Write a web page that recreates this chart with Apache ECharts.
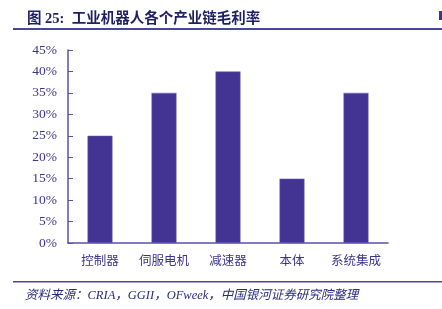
<!DOCTYPE html>
<html>
<head>
<meta charset="utf-8">
<script src="https://cdn.jsdelivr.net/npm/echarts@6/dist/echarts.min.js"></script>
<style>html,body{margin:0;padding:0;background:#fff;}#c{width:442px;height:309px;}</style>
</head>
<body>
<div id="c"></div>
<script>
const categories = ['控制器', '伺服电机', '减速器', '本体', '系统集成'];
const grossMargin = [25, 35, 40, 15, 35];
const yTicks = [0, 5, 10, 15, 20, 25, 30, 35, 40, 45];
const titleText = '图 25:  工业机器人各个产业链毛利率';
const sourceText = '资料来源：CRIA，GGII，OFweek，中国银河证券研究院整理';

const axisColor = '#5a52a8';
const labelColor = '#3b358f';
const chart = echarts.init(document.getElementById('c'), null, {renderer: 'canvas'});
chart.setOption({
  animation: false,
  backgroundColor: '#fff',
  title: {
    text: titleText,
    left: 22, top: 7,
    textStyle: {fontSize: 14.5, fontWeight: 'bold', color: '#1f1f66', fontFamily: '"Liberation Serif","Noto Sans CJK SC",serif'}
  },
  grid: {left: 68, right: 54, top: 50, bottom: 66},
  xAxis: {
    type: 'category',
    data: categories,
    axisLine: {lineStyle: {color: axisColor, width: 1.5}},
    axisTick: {inside: true, length: 5, lineStyle: {color: axisColor}},
    axisLabel: {interval: 0, color: labelColor, fontSize: 12.5, margin: 11, fontFamily: '"Noto Sans CJK SC",serif'}
  },
  yAxis: {
    type: 'value',
    min: yTicks[0], max: yTicks[yTicks.length - 1], interval: 5,
    axisLine: {show: true, lineStyle: {color: axisColor, width: 1.5}},
    axisTick: {show: true, inside: true, length: 5, lineStyle: {color: axisColor}},
    splitLine: {show: false},
    axisLabel: {color: labelColor, fontSize: 13.5, margin: 11, fontFamily: '"Liberation Serif",serif', formatter: v => v + '%'}
  },
  series: [{
    type: 'bar',
    data: grossMargin,
    barWidth: '39%',
    itemStyle: {color: '#433494', borderColor: '#6a60b8', borderWidth: 0.5}
  }],
  graphic: [
    {type: 'rect', shape: {x: 13, y: 28, width: 429, height: 2}, style: {fill: '#4a46a0'}},
    {type: 'rect', shape: {x: 439, y: 11, width: 3, height: 9}, style: {fill: '#3a3590'}},
    {type: 'rect', shape: {x: 13, y: 281, width: 429, height: 1.5}, style: {fill: '#4a46a0'}},
    {type: 'text', left: 25, top: 289, style: {text: sourceText, fill: '#2a2a80', font: 'italic 12.5px "Liberation Serif","Noto Sans CJK SC",serif'}}
  ]
});
</script>
</body>
</html>
